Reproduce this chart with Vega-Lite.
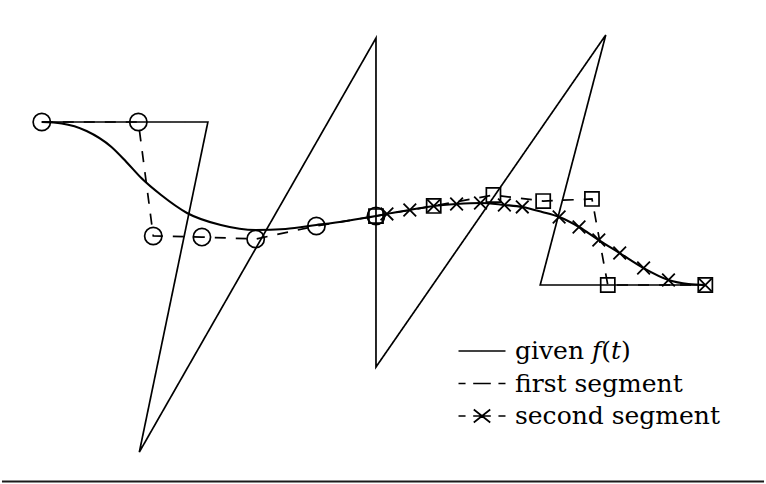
{
  "$schema": "https://vega.github.io/schema/vega-lite/v6.json",
  "width": 766,
  "height": 484,
  "autosize": {"type": "fit", "contains": "padding"},
  "padding": 0,
  "background": "white",
  "config": {"view": {"stroke": null}},
  "datasets": {
    "paths": [
      {"path": "zigzag", "series": "given 𝑓(𝑡)", "i": 0, "t": 0, "f": 1},
      {"path": "zigzag", "series": "given 𝑓(𝑡)", "i": 1, "t": 1.502, "f": 1},
      {"path": "zigzag", "series": "given 𝑓(𝑡)", "i": 2, "t": 0.882, "f": -1.025},
      {"path": "zigzag", "series": "given 𝑓(𝑡)", "i": 3, "t": 3.022, "f": 1.515},
      {"path": "zigzag", "series": "given 𝑓(𝑡)", "i": 4, "t": 3.022, "f": -0.503},
      {"path": "zigzag", "series": "given 𝑓(𝑡)", "i": 5, "t": 5.1, "f": 1.534},
      {"path": "zigzag", "series": "given 𝑓(𝑡)", "i": 6, "t": 4.507, "f": 0},
      {"path": "zigzag", "series": "given 𝑓(𝑡)", "i": 7, "t": 6, "f": 0},
      {"path": "first", "series": "first segment", "i": 0, "t": 0, "f": 1},
      {"path": "first", "series": "first segment", "i": 1, "t": 0.873, "f": 1},
      {"path": "first", "series": "first segment", "i": 2, "t": 1.008, "f": 0.301},
      {"path": "first", "series": "first segment", "i": 3, "t": 1.448, "f": 0.294},
      {"path": "first", "series": "first segment", "i": 4, "t": 1.934, "f": 0.282},
      {"path": "first", "series": "first segment", "i": 5, "t": 2.483, "f": 0.362},
      {"path": "first", "series": "first segment", "i": 6, "t": 3.022, "f": 0.423},
      {"path": "second", "series": "second segment", "i": 0, "t": 3.022, "f": 0.423},
      {"path": "second", "series": "second segment", "i": 1, "t": 3.544, "f": 0.485},
      {"path": "second", "series": "second segment", "i": 2, "t": 4.084, "f": 0.552},
      {"path": "second", "series": "second segment", "i": 3, "t": 4.534, "f": 0.515},
      {"path": "second", "series": "second segment", "i": 4, "t": 4.975, "f": 0.528},
      {"path": "second", "series": "second segment", "i": 5, "t": 5.118, "f": 0},
      {"path": "second", "series": "second segment", "i": 6, "t": 6, "f": 0}
    ],
    "curve": [
      {"t": 0, "f": 1},
      {"t": 0.18, "f": 0.991},
      {"t": 0.405, "f": 0.945},
      {"t": 0.63, "f": 0.847},
      {"t": 0.765, "f": 0.755},
      {"t": 0.9, "f": 0.656},
      {"t": 1.079, "f": 0.552},
      {"t": 1.313, "f": 0.442},
      {"t": 1.619, "f": 0.368},
      {"t": 1.934, "f": 0.337},
      {"t": 2.204, "f": 0.344},
      {"t": 2.483, "f": 0.368},
      {"t": 2.753, "f": 0.393},
      {"t": 3.022, "f": 0.423},
      {"t": 3.121, "f": 0.436},
      {"t": 3.328, "f": 0.46},
      {"t": 3.544, "f": 0.485},
      {"t": 3.751, "f": 0.497},
      {"t": 3.967, "f": 0.503},
      {"t": 4.183, "f": 0.491},
      {"t": 4.345, "f": 0.479},
      {"t": 4.525, "f": 0.448},
      {"t": 4.678, "f": 0.417},
      {"t": 4.858, "f": 0.356},
      {"t": 5.037, "f": 0.276},
      {"t": 5.226, "f": 0.196},
      {"t": 5.442, "f": 0.104},
      {"t": 5.667, "f": 0.031},
      {"t": 5.847, "f": 0.006},
      {"t": 6, "f": 0}
    ],
    "crosses": [
      {"t": 3.121, "f": 0.436},
      {"t": 3.328, "f": 0.46},
      {"t": 3.544, "f": 0.485},
      {"t": 3.751, "f": 0.497},
      {"t": 3.967, "f": 0.503},
      {"t": 4.183, "f": 0.491},
      {"t": 4.345, "f": 0.479},
      {"t": 4.678, "f": 0.417},
      {"t": 4.858, "f": 0.356},
      {"t": 5.037, "f": 0.276},
      {"t": 5.226, "f": 0.196},
      {"t": 5.442, "f": 0.104},
      {"t": 5.667, "f": 0.031},
      {"t": 6, "f": 0}
    ],
    "baseline": [{"t": -0.36, "t2": 6.531, "f": -1.206}]
  },
  "encoding": {
    "x": {"field": "t", "type": "quantitative", "scale": {"domain": [-0.3598, 6.5307], "nice": false, "zero": false}, "axis": null},
    "y": {"field": "f", "type": "quantitative", "scale": {"domain": [-1.2209, 1.7485], "nice": false, "zero": false}, "axis": null}
  },
  "layer": [
    {
      "data": {"name": "paths"},
      "mark": {"type": "line", "color": "black", "strokeWidth": 1.7, "interpolate": "linear"},
      "encoding": {
        "detail": {"field": "path", "type": "nominal"},
        "order": {"field": "i", "type": "quantitative"},
        "strokeDash": {
          "field": "series",
          "type": "nominal",
          "scale": {
            "domain": ["given 𝑓(𝑡)", "first segment", "second segment"],
            "range": [[1, 0], [11, 10], [11, 10]]
          },
          "legend": {
            "title": null,
            "orient": "none",
            "legendX": 467,
            "legendY": 338,
            "padding": 0,
            "symbolSize": 552,
            "symbolStrokeWidth": 1.7,
            "symbolStrokeColor": "black",
            "labelFont": "DejaVu Serif",
            "labelFontSize": 25,
            "labelColor": "black",
            "labelOffset": 20,
            "labelLimit": 0,
            "rowPadding": 6.5,
            "encode": {
              "symbols": {
                "update": {
                  "shape": {"signal": "datum.value === 'first segment' ? 'M-2,0H-1.4M-0.75,0H0M0,0H0.75M1.4,0H2' : datum.value === 'second segment' ? 'M-2,0H-1.4M-0.75,0H0M0,0H0.75M-0.7,-0.55L0,0M0,0L0.7,0.55M-0.7,0.55L0,0M0,0L0.7,-0.55M1.4,0H2' : 'M-2,0H2'"}
                }
              }
            }
          }
        }
      }
    },
    {
      "data": {"name": "curve"},
      "mark": {"type": "line", "color": "black", "strokeWidth": 2.1, "interpolate": "monotone"}
    },
    {
      "data": {"name": "paths"},
      "transform": [{"filter": "datum.path === 'first'"}],
      "mark": {"type": "point", "shape": "circle", "filled": false, "size": 300, "stroke": "black", "strokeWidth": 1.7, "opacity": 1}
    },
    {
      "data": {"name": "paths"},
      "transform": [{"filter": "datum.path === 'second'"}],
      "mark": {"type": "point", "shape": "square", "filled": false, "size": 200, "stroke": "black", "strokeWidth": 1.7, "opacity": 1}
    },
    {
      "data": {"name": "crosses"},
      "mark": {"type": "point", "shape": "M-1,-1L1,1M-1,1L1,-1", "filled": false, "size": 160, "stroke": "black", "strokeWidth": 1.8, "opacity": 1}
    },
    {
      "data": {"name": "baseline"},
      "mark": {"type": "rule", "color": "#1a1a1a", "strokeWidth": 2},
      "encoding": {
        "x2": {"field": "t2"},
        "y": {"field": "f", "type": "quantitative"}
      }
    }
  ]
}
